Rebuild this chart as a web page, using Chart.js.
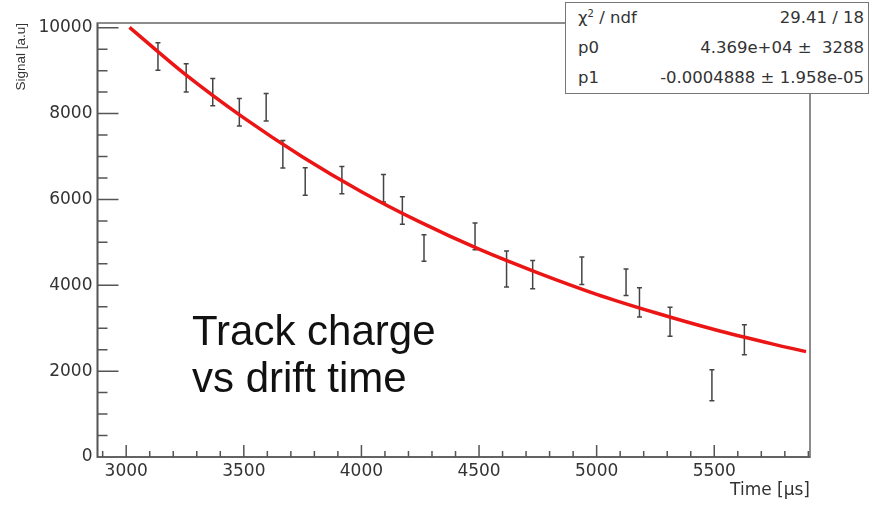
<!DOCTYPE html>
<html>
<head>
<meta charset="utf-8">
<script src="https://cdn.jsdelivr.net/npm/chart.js@4.4.1/dist/chart.umd.min.js"></script>
<style>
  html, body { margin: 0; padding: 0; background: #fff; }
  #wrap { position: relative; width: 883px; height: 505px; }
  #stats {
    position: absolute; left: 565px; top: 2px; width: 302px; height: 90px;
    border: 1.5px solid #777; background: #fff;
    font-family: "DejaVu Sans", sans-serif; font-size: 16.5px; color: #333;
  }
  .row { display: flex; justify-content: space-between; height: 30px; line-height: 30px; padding: 0 4px 0 12px; white-space: pre; }
  sup { font-size: 10px; line-height: 0; }
  #note {
    position: absolute; left: 192px; top: 307px;
    font-family: "Liberation Sans", Arial, sans-serif; font-size: 42px; line-height: 47px; color: #111;
  }
</style>
</head>
<body>
<div id="wrap">
  <canvas id="signalChart" width="883" height="505"></canvas>
  <div id="stats">
    <div class="row"><span>χ<sup>2</sup> / ndf</span><span>29.41 / 18</span></div>
    <div class="row"><span>p0</span><span>4.369e+04 ±  3288</span></div>
    <div class="row"><span>p1</span><span>-0.0004888 ± 1.958e-05</span></div>
  </div>
  <div id="note">Track charge<br>vs drift time</div>
</div>
<script>
// gemessene Punkte (Zeit in µs, Signal in a.u.)
const times  = [3135, 3255, 3368, 3481, 3595, 3666, 3761, 3917, 4094, 4174, 4266, 4483, 4617, 4728, 4937, 5125, 5182, 5312, 5490, 5628];
const signal = [9330, 8830, 8500, 8030, 8150, 7050, 6420, 6450, 6260, 5740, 4870, 5140, 4380, 4250, 4340, 4070, 3600, 3150, 1670, 2730];
const errors = [ 320,  330,  320,  320,  320,  320,  320,  320,  320,  320,  310,  310,  420,  330,  320,  310,  340,  340,  360,  350];

// Fitkurve
const fitTime   = [3014, 3250, 3500, 3750, 4000, 4250, 4500, 4750, 5000, 5250, 5500, 5750, 5890];
const fitSignal = [10010, 8920, 7900, 6990, 6180, 5470, 4840, 4290, 3790, 3360, 2970, 2630, 2455];

const xTickLabels = [3000, 3500, 4000, 4500, 5000, 5500];
const yTickLabels = [0, 2000, 4000, 6000, 8000, 10000];

const textFont = { family: "DejaVu Sans", size: 17 };

// Fehlerbalken als unterbrochene Linie
const errorPoints = [];
times.forEach((t, i) => {
    errorPoints.push({ x: t, y: signal[i] - errors[i] });
    errorPoints.push({ x: t, y: signal[i] + errors[i] });
    errorPoints.push({ x: t, y: null });
});

// ROOT-artige Achsen: Rahmen und Ticks nach innen
const rootAxes = {
    id: 'rootAxes',
    beforeDatasetsDraw(chart) {
        const { ctx, chartArea: a, scales: { x, y } } = chart;
        ctx.save();
        ctx.strokeStyle = '#8c8c8c';
        ctx.lineWidth = 2;
        ctx.strokeRect(a.left, a.top, a.right - a.left, a.bottom - a.top);

        ctx.strokeStyle = '#555';
        ctx.lineWidth = 1.5;
        ctx.beginPath();
        ctx.moveTo(a.left, a.top);
        ctx.lineTo(a.left, a.bottom);
        ctx.lineTo(a.right, a.bottom);
        for (let v = 2900; v <= 5900; v += 100) {
            const px = x.getPixelForValue(v);
            const len = v % 500 === 0 ? 12 : 6;
            ctx.moveTo(px, a.bottom);
            ctx.lineTo(px, a.bottom - len);
        }
        for (let v = 0; v <= 10000; v += 500) {
            const py = y.getPixelForValue(v);
            const len = v % 2000 === 0 ? 21 : 10;
            ctx.moveTo(a.left, py);
            ctx.lineTo(a.left + len, py);
        }
        ctx.stroke();
        ctx.restore();
    }
};

const ctx = document.getElementById('signalChart').getContext('2d');
new Chart(ctx, {
    type: 'line',
    data: {
        datasets: [
            {
                label: 'fit',
                data: fitTime.map((t, i) => ({ x: t, y: fitSignal[i] })),
                borderColor: '#ec1515',
                borderWidth: 3.5,
                pointRadius: 0,
                cubicInterpolationMode: 'monotone',
                fill: false
            },
            {
                label: 'data',
                data: errorPoints,
                borderColor: '#444',
                borderWidth: 1.5,
                pointStyle: 'line',
                pointRadius: 2.5,
                pointBorderWidth: 1.5,
                pointBorderColor: '#444',
                spanGaps: false,
                fill: false
            }
        ]
    },
    options: {
        responsive: false,
        animation: false,
        layout: { padding: { top: 23, right: 73, left: 0, bottom: 0 } },
        plugins: { legend: { display: false }, tooltip: { enabled: false } },
        scales: {
            x: {
                type: 'linear',
                min: 2878,
                max: 5907,
                afterBuildTicks: axis => { axis.ticks = xTickLabels.map(v => ({ value: v })); },
                afterFit: s => { s.height = 48; },
                grid: { display: false, drawTicks: false },
                border: { display: false },
                ticks: { padding: 4, color: '#333', font: textFont, maxRotation: 0, callback: v => String(v) },
                title: { display: true, text: 'Time [µs]', align: 'end', color: '#333', font: textFont, padding: { top: 0, bottom: 4 } }
            },
            y: {
                min: 0,
                max: 10110,
                afterBuildTicks: axis => { axis.ticks = yTickLabels.map(v => ({ value: v })); },
                afterFit: s => { s.width = 97.5; },
                grid: { display: false, drawTicks: false },
                border: { display: false },
                ticks: { padding: 5, color: '#333', font: textFont, callback: v => String(v) },
                title: { display: true, text: 'Signal [a.u]', align: 'end', color: '#333', font: { family: "Liberation Sans", size: 13.5 }, padding: { top: 13, bottom: 0 } }
            }
        }
    },
    plugins: [rootAxes]
});
</script>
</body>
</html>
